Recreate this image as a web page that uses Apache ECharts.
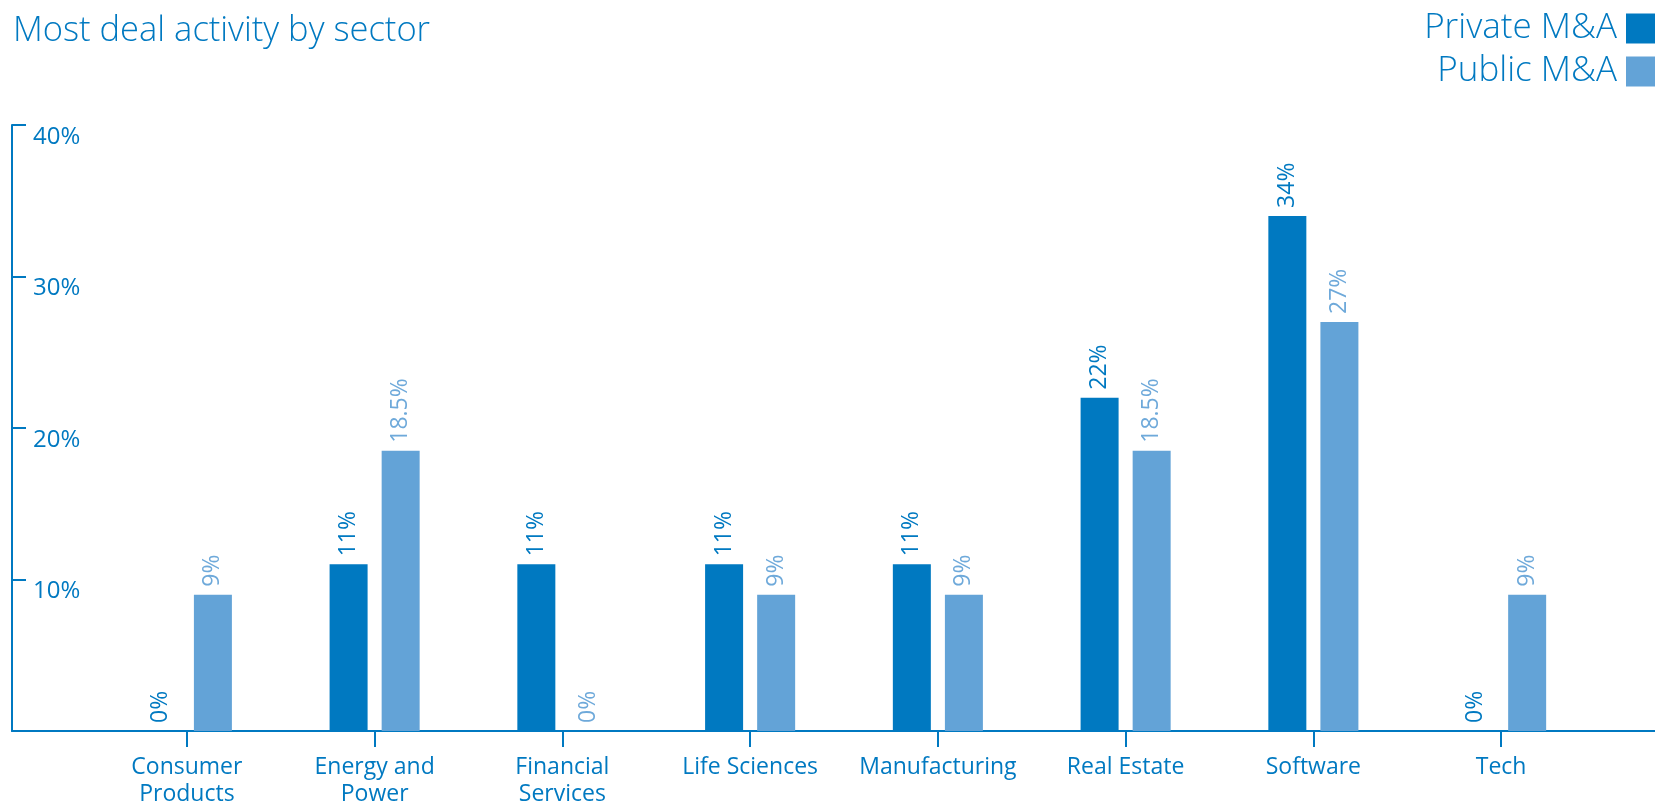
<!DOCTYPE html>
<html>
<head>
<meta charset="utf-8">
<title>Most deal activity by sector</title>
<script src="https://cdn.jsdelivr.net/npm/echarts@6/dist/echarts.min.js"></script>
<style>
  html, body { margin: 0; padding: 0; background: #ffffff; }
  #chart { width: 1655px; height: 803px; }
</style>
</head>
<body>
<div id="chart"></div>
<script>
// Sector shares of deal activity (percent)
const sectors = [
  'Consumer\nProducts', 'Energy and\nPower', 'Financial\nServices', 'Life Sciences',
  'Manufacturing', 'Real Estate', 'Software', 'Tech'
];
const privateMA = [0, 11, 11, 11, 11, 22, 34, 0];
const publicMA = [9, 18.5, 0, 9, 9, 18.5, 27, 9];
const yTicks = [0, 10, 20, 30, 40];

const DARK = '#0079c1';
const LIGHT = '#63a3d7';
const LIGHT_TEXT = '#6ea9da';
const FONT = '"Open Sans", "Noto Sans", sans-serif';

const chart = echarts.init(document.getElementById('chart'), null, { renderer: 'canvas' });

const barLabel = (color) => ({
  show: true,
  position: 'top',
  rotate: 90,
  align: 'left',
  verticalAlign: 'middle',
  distance: 8,
  color: color,
  fontFamily: FONT,
  fontSize: 23,
  formatter: (p) => p.value + '%'
});

chart.setOption({
  animation: false,
  textStyle: { fontFamily: FONT },
  title: {
    text: 'Most deal activity by sector',
    left: 8,
    top: 9,
    textStyle: { color: DARK, fontFamily: FONT, fontSize: 34.5, fontWeight: 300 }
  },
  legend: {
    orient: 'vertical',
    right: -1,
    top: 11,
    padding: 0,
    align: 'right',
    itemWidth: 30,
    itemHeight: 30,
    itemGap: 8,
    icon: 'rect',
    textStyle: { color: DARK, fontFamily: FONT, fontSize: 35, fontWeight: 300, lineHeight: 30, padding: [0, 4, 0, 0] },
    data: ['Private M&A', 'Public M&A']
  },
  // Grid 0 holds the bars; grid 1 carries the long axis lines and the value scale
  grid: [
    { left: 93, right: 60, top: 125, bottom: 72, outerBoundsMode: 'none', containLabel: false },
    { left: 12, right: 0, top: 125, bottom: 72, outerBoundsMode: 'none', containLabel: false }
  ],
  xAxis: [
    {
      type: 'category',
      gridIndex: 0,
      data: sectors,
      axisLine: { show: false },
      axisTick: { show: true, alignWithLabel: true, length: 16, lineStyle: { color: DARK, width: 2 } },
      axisLabel: { color: DARK, fontSize: 23, lineHeight: 27, margin: 23, fontFamily: FONT, interval: 0 }
    },
    {
      type: 'value',
      gridIndex: 1,
      min: 0,
      max: 1,
      axisLine: { show: true, lineStyle: { color: DARK, width: 2 } },
      axisTick: { show: false },
      axisLabel: { show: false },
      splitLine: { show: false }
    }
  ],
  yAxis: [
    { type: 'value', gridIndex: 0, min: 0, max: 40, show: false },
    {
      type: 'value',
      gridIndex: 1,
      min: yTicks[0],
      max: yTicks[yTicks.length - 1],
      interval: 10,
      axisLine: { show: true, lineStyle: { color: DARK, width: 2 } },
      axisTick: { show: true, inside: true, length: 14, lineStyle: { color: DARK, width: 2 } },
      axisLabel: {
        inside: true,
        margin: 21,
        color: DARK,
        fontSize: 24,
        fontFamily: FONT,
        verticalAlign: 'top',
        formatter: (v) => (v === 0 ? '' : v + '%')
      },
      splitLine: { show: false }
    }
  ],
  series: [
    {
      name: 'Private M&A',
      type: 'bar',
      xAxisIndex: 0,
      yAxisIndex: 0,
      data: privateMA,
      barWidth: 38,
      barGap: '37%',
      itemStyle: { color: DARK },
      label: barLabel(DARK)
    },
    {
      name: 'Public M&A',
      type: 'bar',
      xAxisIndex: 0,
      yAxisIndex: 0,
      data: publicMA,
      barWidth: 38,
      itemStyle: { color: LIGHT },
      label: barLabel(LIGHT_TEXT)
    }
  ]
});
</script>
</body>
</html>
